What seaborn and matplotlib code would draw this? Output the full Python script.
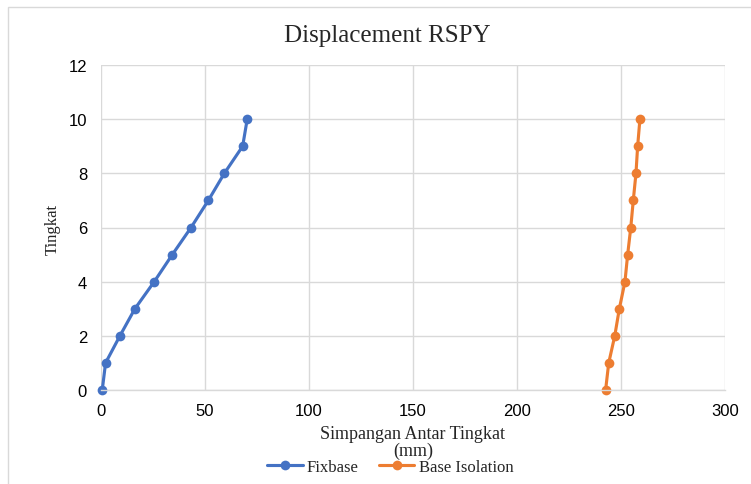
import matplotlib
matplotlib.use("Agg")
import matplotlib.pyplot as plt
import seaborn as sns
import pandas as pd
from matplotlib.patches import Rectangle
from matplotlib.lines import Line2D

levels = [0, 1, 2, 3, 4, 5, 6, 7, 8, 9, 10]
fixbase = [0.6, 2.2, 9.1, 16.3, 25.6, 34.3, 43.3, 51.6, 59.3, 68.1, 70.3]
base_isolation = [242.6, 244.1, 247.0, 249.2, 251.9, 253.2, 254.7, 255.9, 257.2, 258.0, 259.1]
series_names = ["Fixbase", "Base Isolation"]
x_ticks = [0, 50, 100, 150, 200, 250, 300]
y_ticks = [0, 2, 4, 6, 8, 10, 12]

df = pd.concat([
    pd.DataFrame({"disp": fixbase, "level": levels, "series": series_names[0]}),
    pd.DataFrame({"disp": base_isolation, "level": levels, "series": series_names[1]}),
])

sns.set_theme(style="white")
W, H = 751, 485
fig = plt.figure(figsize=(W / 100, H / 100), dpi=100)
ax = fig.add_axes([101 / W, 1 - 391 / H, (725 - 101) / W, (391 - 66) / H])

palette = {"Fixbase": "#4472c4", "Base Isolation": "#ed7d31"}
sns.lineplot(data=df, x="disp", y="level", hue="series", palette=palette,
             marker="o", markersize=7, markeredgewidth=0, linewidth=2.25,
             sort=False, estimator=None, ax=ax, legend=False)
for ln in ax.lines:
    ln.set_clip_on(False)

ax.set_xlim(0, 300)
ax.set_ylim(0, 12)
ax.set_xticks(x_ticks)
ax.set_yticks(y_ticks)
ax.grid(True, color="#d9d9d9", linewidth=1)
ax.set_axisbelow(True)
for s in ["top", "right", "left"]:
    ax.spines[s].set_visible(False)
ax.spines["bottom"].set_color("#d9d9d9")
ax.spines["bottom"].set_linewidth(1)
ax.tick_params(axis="x", length=0, labelsize=12, labelcolor="#000000", pad=9)
ax.tick_params(axis="y", length=0, labelsize=12, labelcolor="#000000", pad=10)
for lab in ax.get_xticklabels() + ax.get_yticklabels():
    lab.set_fontfamily("Liberation Sans")

ax.set_xlabel("")
ax.set_ylabel("")
serif = ["Liberation Serif", "DejaVu Serif"]
fig.text(413 / W, 1 - 443 / H, "Simpangan Antar Tingkat\n(mm)", ha="center", va="center",
         fontsize=13, family=serif, linespacing=1.0)
fig.text(53 / W, 1 - 229 / H, "Tingkat", ha="center", va="center", rotation=90,
         fontsize=12, family=serif)
fig.text(387 / W, 1 - 36 / H, "Displacement RSPY", ha="center", va="center",
         fontsize=18, family=serif)

handles = [Line2D([0], [0], color=palette[n], marker="o", markersize=7, markeredgewidth=0,
                  linewidth=2.25) for n in series_names]
leg = fig.legend(handles, series_names, loc="center", bbox_to_anchor=(390 / W, 1 - 468 / H),
                 ncol=2, frameon=False, prop={"family": "Liberation Serif", "size": 12},
                 handlelength=2.15, columnspacing=1.2, handletextpad=0.25)

fig.patches.append(Rectangle((8 / W, -0.1), 1.2, 1 - 8 / H + 0.1, transform=fig.transFigure,
                             fill=False, edgecolor="#d9d9d9", linewidth=1))

fig.savefig("out.png", dpi=100)
